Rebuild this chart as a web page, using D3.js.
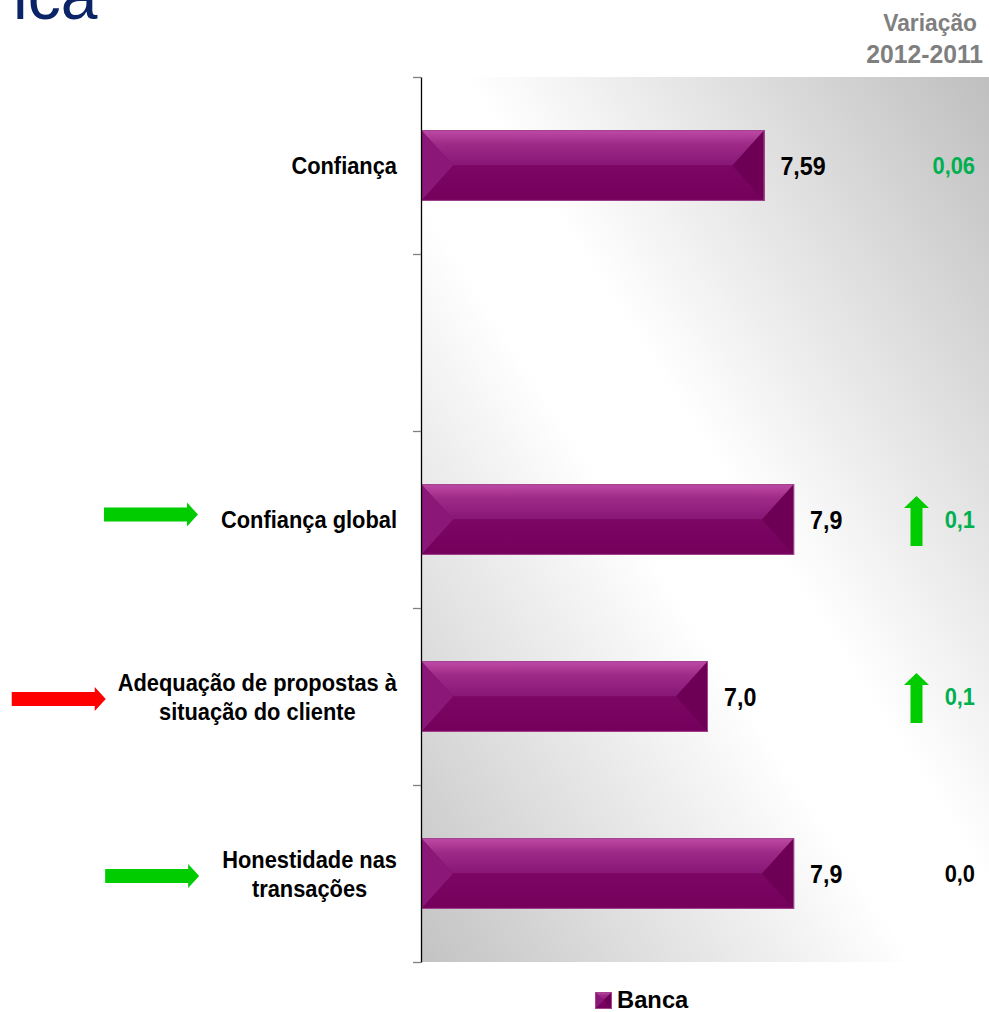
<!DOCTYPE html>
<html>
<head>
<meta charset="utf-8">
<script src="https://cdn.jsdelivr.net/npm/d3@7"></script>
<style>
  html, body { margin: 0; padding: 0; background: #ffffff; }
  svg { display: block; font-family: "Liberation Sans", Arial, sans-serif; }
</style>
</head>
<body>
<svg id="chart" width="989" height="1012"></svg>
<script>
// Categories from top to bottom (the second row is intentionally empty)
const categories = [
  "Confiança",
  "",
  "Confiança global",
  "Adequação de propostas à\nsituação do cliente",
  "Honestidade nas\ntransações"
];
// Scores for "Banca"
const values = [7.59, null, 7.9, 7.0, 7.9];
// Change 2012 vs 2011
const variation = [0.06, null, 0.1, 0.1, 0.0];
// Up arrow next to the change figure
const variationArrow = [false, false, true, true, false];
// Coloured arrow to the left of the category name
const status = [null, null, "positivo", "negativo", "positivo"];
const seriesName = "Banca";
const headerLines = ["Variação", "2012-2011"];
const titleText = "ica";

const svg = d3.select("#chart");

const plot = { left: 421, top: 77, bottom: 962, right: 995 };

const x = d3.scaleLinear().domain([4, 10]).range([plot.left, plot.right]);
const y = d3.scaleBand()
  .domain(d3.range(categories.length))
  .range([plot.top, plot.bottom])
  .paddingInner(0.6)
  .paddingOuter(0.3);
const yTicks = d3.scaleLinear().domain([0, categories.length]).range([plot.top, plot.bottom]);

const fmt = v => {
  const d = Math.abs(Math.round(v * 100) % 10) ? 2 : 1;
  return v.toFixed(d).replace(".", ",");
};

// Text drawn slightly condensed (narrow bold face)
function condensedText(g, tx, ty, str, size, sx, anchor) {
  return g.append("text")
    .attr("transform", `translate(${tx},${ty}) scale(${sx},1)`)
    .attr("font-size", size).attr("font-weight", "bold")
    .attr("text-anchor", anchor || "start")
    .text(str);
}

const defs = svg.append("defs");

// Plot background: grey corners, white diagonal band
const bg = defs.append("linearGradient").attr("id", "bgGrad")
  .attr("x1", 1).attr("y1", 0).attr("x2", 0).attr("y2", 1);
bg.append("stop").attr("offset", "0%").attr("stop-color", "#bebebe");
bg.append("stop").attr("offset", "25%").attr("stop-color", "#e2e2e2");
bg.append("stop").attr("offset", "46%").attr("stop-color", "#ffffff");
bg.append("stop").attr("offset", "57%").attr("stop-color", "#ffffff");
bg.append("stop").attr("offset", "78%").attr("stop-color", "#e2e2e2");
bg.append("stop").attr("offset", "100%").attr("stop-color", "#c3c3c3");

const topG = defs.append("linearGradient").attr("id", "barTop")
  .attr("x1", 0).attr("y1", 0).attr("x2", 0).attr("y2", 1);
topG.append("stop").attr("offset", "0%").attr("stop-color", "#be4ba6");
topG.append("stop").attr("offset", "40%").attr("stop-color", "#9e2a87");
topG.append("stop").attr("offset", "100%").attr("stop-color", "#871676");

const botG = defs.append("linearGradient").attr("id", "barBot")
  .attr("x1", 0).attr("y1", 0).attr("x2", 0).attr("y2", 1);
botG.append("stop").attr("offset", "0%").attr("stop-color", "#7b0664");
botG.append("stop").attr("offset", "100%").attr("stop-color", "#74005c");

svg.append("rect")
  .attr("x", plot.left).attr("y", plot.top)
  .attr("width", plot.right - plot.left).attr("height", plot.bottom - plot.top)
  .attr("fill", "url(#bgGrad)");

// Bevelled bar shape
function bevelBar(g, x0, x1, y0, y1, b) {
  const ym = (y0 + y1) / 2;
  const bb = Math.min(b, (x1 - x0) / 2);
  g.append("rect").attr("x", x0).attr("y", y0).attr("width", x1 - x0).attr("height", y1 - y0)
    .attr("fill", "#780560");
  g.append("path").attr("d", `M${x0},${y0}L${x1},${y0}L${x1 - bb},${ym}L${x0 + bb},${ym}Z`)
    .attr("fill", "url(#barTop)");
  g.append("path").attr("d", `M${x0},${y1}L${x1},${y1}L${x1 - bb},${ym}L${x0 + bb},${ym}Z`)
    .attr("fill", "url(#barBot)");
  g.append("path").attr("d", `M${x0},${y0}L${x0 + bb},${ym}L${x0},${y1}Z`)
    .attr("fill", "#8b1878");
  g.append("path").attr("d", `M${x1},${y0}L${x1 - bb},${ym}L${x1},${y1}Z`)
    .attr("fill", "#6d0055");
  g.append("rect").attr("x", x0 + 0.5).attr("y", y0 + 0.5).attr("width", x1 - x0 - 1).attr("height", y1 - y0 - 1)
    .attr("fill", "none").attr("stroke", "#a3448f").attr("stroke-width", 1);
}

const rows = categories.map((c, i) => ({
  i, lines: c ? c.split("\n") : [], value: values[i], variation: variation[i],
  up: variationArrow[i], status: status[i]
}));

// Bars
const bars = svg.append("g");
rows.filter(d => d.value != null).forEach(d => {
  bevelBar(bars.append("g"), x(4), x(d.value), y(d.i), y(d.i) + y.bandwidth(), 32);
});

// Axis
const axis = svg.append("g").attr("transform", `translate(${plot.left},0)`)
  .call(d3.axisLeft(yTicks).tickValues(d3.range(categories.length + 1))
    .tickSize(8).tickSizeOuter(0).tickFormat(""));
axis.select(".domain").attr("stroke", "#000").attr("stroke-width", 1.3);
axis.selectAll(".tick line").attr("stroke", "#7f7f7f").attr("stroke-width", 1.3);

// Value labels
const valG = svg.append("g").attr("fill", "#000");
rows.filter(d => d.value != null).forEach(d => {
  condensedText(valG, x(d.value) + 16, y(d.i) + y.bandwidth() / 2 + 9.5, fmt(d.value), 25, 0.93);
});

// Category labels, centred lines, right edge at the axis
const labelRight = 397;
const labelSX = 0.93;
const labelG = svg.append("g").attr("fill", "#000");
rows.forEach(d => {
  if (!d.lines.length) return;
  const cy = y(d.i) + y.bandwidth() / 2;
  const lh = 29;
  const texts = d.lines.map((ln, k) =>
    condensedText(labelG, 0, cy + 8.5 - (d.lines.length - 1) * lh / 2 + k * lh, ln, 23.5, labelSX, "middle"));
  const maxW = d3.max(texts, t => t.node().getComputedTextLength()) * labelSX;
  const cx = labelRight - maxW / 2;
  texts.forEach((t, k) => t.attr("transform",
    `translate(${cx},${cy + 8.5 - (d.lines.length - 1) * lh / 2 + k * lh}) scale(${labelSX},1)`));
  d.labelLeft = labelRight - maxW;
  d.cy = cy;
  d.nLines = d.lines.length;
});

// Status arrows left of the names
const statusColor = { positivo: "#00cc00", negativo: "#ff0000" };
rows.filter(d => d.status).forEach(d => {
  const tip = d.labelLeft - (d.status === "negativo" ? 12 : 23);
  const len = 94, head = 11, sh = 7, hh = 12;
  const cy = d.cy + (d.nLines > 1 ? 2.5 : -5);
  const x0 = tip - len;
  svg.append("path")
    .attr("d", `M${x0},${cy - sh}L${tip - head},${cy - sh}L${tip - head},${cy - hh}L${tip},${cy}` +
      `L${tip - head},${cy + hh}L${tip - head},${cy + sh}L${x0},${cy + sh}Z`)
    .attr("fill", statusColor[d.status]);
});

// Change column
const varRight = 975;
const varG = svg.append("g");
rows.filter(d => d.variation != null).forEach(d => {
  condensedText(varG, varRight, y(d.i) + y.bandwidth() / 2 + 8.5, fmt(d.variation), 23, 0.95, "end")
    .attr("fill", d.variation > 0 ? "#00b050" : "#000");
});

rows.filter(d => d.up).forEach(d => {
  const cx = 916.5, cy = y(d.i) + y.bandwidth() / 2 + 1.5;
  const top = cy - 25, bot = cy + 25, hw = 12.5, sw = 6, hb = top + 12;
  svg.append("path")
    .attr("d", `M${cx},${top}L${cx + hw},${hb}L${cx + sw},${hb}L${cx + sw},${bot}L${cx - sw},${bot}` +
      `L${cx - sw},${hb}L${cx - hw},${hb}Z`)
    .attr("fill", "#00cc00");
});

// Column header
const headG = svg.append("g").attr("fill", "#7f7f7f");
condensedText(headG, 977, 31, headerLines[0], 24, 0.95, "end");
condensedText(headG, 983, 63, headerLines[1], 26, 0.95, "end");

// Title fragment
svg.append("text")
  .attr("x", 13).attr("y", 19)
  .attr("font-size", 66).attr("fill", "#0b2468")
  .text(titleText);

// Legend
const lg = svg.append("g");
bevelBar(lg, 595, 612, 992, 1009, 8.5);
condensedText(lg, 617, 1008, seriesName, 24.5, 0.97).attr("fill", "#000");
</script>
</body>
</html>
